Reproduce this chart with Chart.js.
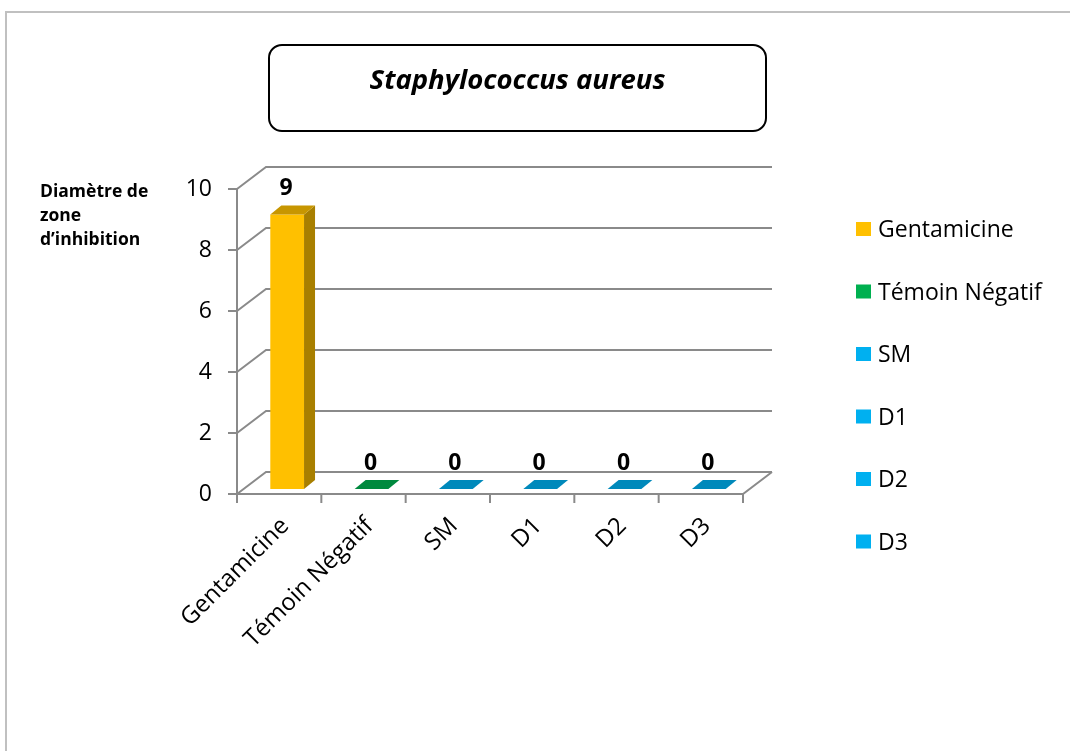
<!DOCTYPE html>
<html lang="fr">
<head>
<meta charset="utf-8">
<title>Staphylococcus aureus</title>
<script src="https://cdn.jsdelivr.net/npm/chart.js@4.4.1/dist/chart.umd.min.js"></script>
<style>
  html, body { margin: 0; padding: 0; background: #fff; }
  #wrap { position: relative; width: 1070px; height: 751px; overflow: hidden; }
  #frame {
    position: absolute; left: 5px; top: 11px; width: 1080px; height: 760px;
    border-left: 2px solid #c0c0c0; border-top: 2px solid #c0c0c0;
  }
  #title {
    position: absolute; left: 268px; top: 44px; width: 499px; height: 88px;
    box-sizing: border-box; border: 2.5px solid #000; border-radius: 14px;
    padding-top: 15px; text-align: center;
    font: italic bold 27.5px/36px 'Open Sans', sans-serif; color: #000;
  }
  #ytitle {
    position: absolute; left: 40px; top: 178px;
    font: bold 17.5px/24px 'Open Sans', sans-serif; color: #000;
  }
  canvas { position: absolute; left: 0; top: 0; }
</style>
</head>
<body>
<div id="wrap">
  <div id="frame"></div>
  <canvas id="chart" width="1070" height="751"></canvas>
  <div id="title">Staphylococcus aureus</div>
  <div id="ytitle">Diamètre de<br>zone<br>d’inhibition</div>
</div>
<script>
// zone d'inhibition (mm) par produit testé
const categories = ['Gentamicine', 'Témoin Négatif', 'SM', 'D1', 'D2', 'D3'];
const diameters = [9, 0, 0, 0, 0, 0];
const yTicks = [0, 2, 4, 6, 8, 10];

const barColors = ['#FFC000', '#00B050', '#00B0F0', '#00B0F0', '#00B0F0', '#00B0F0'];

const FONT = "'Open Sans', sans-serif";
const GRID = '#8a8a8a';
// depth of the back wall and of each column
const WALL = { dx: 29, dy: -22 };
const COL = { ox: 8, oy: -5, dx: 11, dy: -9 };

function shade(hex, k) {
  const n = parseInt(hex.slice(1), 16);
  const r = Math.round(((n >> 16) & 255) * k);
  const g = Math.round(((n >> 8) & 255) * k);
  const b = Math.round((n & 255) * k);
  return `rgb(${r},${g},${b})`;
}

function poly(ctx, pts, fill) {
  ctx.beginPath();
  ctx.moveTo(pts[0][0], pts[0][1]);
  for (let i = 1; i < pts.length; i++) ctx.lineTo(pts[i][0], pts[i][1]);
  ctx.closePath();
  ctx.fillStyle = fill;
  ctx.fill();
}

const box3d = {
  id: 'box3d',
  beforeDatasetsDraw(chart) {
    const { ctx, chartArea: a, scales: { x, y } } = chart;
    ctx.save();
    ctx.strokeStyle = GRID;
    ctx.lineWidth = 2;
    ctx.lineCap = 'butt';

    // back wall gridlines + left wall diagonals + tick marks
    yTicks.forEach(v => {
      const py = y.getPixelForValue(v);
      ctx.beginPath();
      ctx.moveTo(a.left, py);
      ctx.lineTo(a.left + WALL.dx, py + WALL.dy);
      ctx.lineTo(a.right + WALL.dx, py + WALL.dy);
      ctx.stroke();
      ctx.beginPath();
      ctx.moveTo(a.left - 9, py);
      ctx.lineTo(a.left, py);
      ctx.stroke();
    });

    // front vertical axis
    ctx.beginPath();
    ctx.moveTo(a.left, y.getPixelForValue(10));
    ctx.lineTo(a.left, a.bottom);
    ctx.stroke();

    // floor front edge and right edge
    ctx.beginPath();
    ctx.moveTo(a.left, a.bottom);
    ctx.lineTo(a.right, a.bottom);
    ctx.lineTo(a.right + WALL.dx, a.bottom + WALL.dy);
    ctx.stroke();

    // category tick marks
    const half = (x.getPixelForValue(1) - x.getPixelForValue(0)) / 2;
    for (let i = 0; i <= categories.length; i++) {
      const px = x.getPixelForValue(0) - half + i * half * 2;
      ctx.beginPath();
      ctx.moveTo(px, a.bottom);
      ctx.lineTo(px, a.bottom + 9);
      ctx.stroke();
    }
    ctx.restore();
  },
  beforeDatasetDraw() {
    return false; // columns are drawn in 3D below
  },
  afterDatasetsDraw(chart) {
    const { ctx } = chart;
    const meta = chart.getDatasetMeta(0);
    ctx.save();
    meta.data.forEach((el, i) => {
      const c = barColors[i];
      const l = el.x - el.width / 2 + COL.ox;
      const r = el.x + el.width / 2 + COL.ox;
      const t = el.y + COL.oy;
      const b = el.base + COL.oy;
      if (b - t > 0.5) {
        poly(ctx, [[l, t], [r, t], [r, b], [l, b]], c);
        poly(ctx, [[r, t], [r + COL.dx, t + COL.dy], [r + COL.dx, b + COL.dy], [r, b]], shade(c, 0.66));
      }
      poly(ctx, [[l, t], [r, t], [r + COL.dx, t + COL.dy], [l + COL.dx, t + COL.dy]], shade(c, 0.78));

      // value label
      ctx.fillStyle = '#000';
      ctx.font = `bold 23px ${FONT}`;
      ctx.textAlign = 'center';
      ctx.textBaseline = 'middle';
      ctx.fillText(String(diameters[i]), el.x + 7, el.y - 31);
    });

    // legend, one entry per category
    ctx.textAlign = 'left';
    ctx.textBaseline = 'alphabetic';
    ctx.font = `23px ${FONT}`;
    categories.forEach((name, i) => {
      const yy = 237 + i * 62.5;
      ctx.fillStyle = barColors[i];
      ctx.fillRect(856, yy - 15, 15, 14);
      ctx.fillStyle = '#000';
      ctx.fillText(name, 878, yy);
    });
    ctx.restore();
  }
};

new Chart(document.getElementById('chart'), {
  type: 'bar',
  data: {
    labels: categories,
    datasets: [{
      label: 'Diamètre de zone d’inhibition',
      data: diameters,
      backgroundColor: barColors,
      categoryPercentage: 0.8,
      barPercentage: 0.5
    }]
  },
  options: {
    responsive: false,
    animation: false,
    layout: { padding: { left: 0, top: 189, right: 1070 - 743, bottom: 0 } },
    plugins: {
      legend: { display: false },
      tooltip: { enabled: false }
    },
    scales: {
      y: {
        min: 0,
        max: 10,
        afterFit(scale) { scale.width = 237; },
        afterBuildTicks(scale) { scale.ticks = yTicks.map(v => ({ value: v })); },
        grid: { display: false, drawTicks: false },
        border: { display: false },
        ticks: { padding: 25, color: '#000', font: { family: FONT, size: 23 } }
      },
      x: {
        afterFit(scale) { scale.height = 751 - 494; },
        grid: { display: false, drawTicks: false },
        border: { display: false },
        ticks: {
          autoSkip: false,
          minRotation: 45,
          maxRotation: 45,
          padding: 18,
          labelOffset: 6,
          color: '#000',
          font: { family: FONT, size: 24 }
        }
      }
    }
  },
  plugins: [box3d]
});
</script>
</body>
</html>
